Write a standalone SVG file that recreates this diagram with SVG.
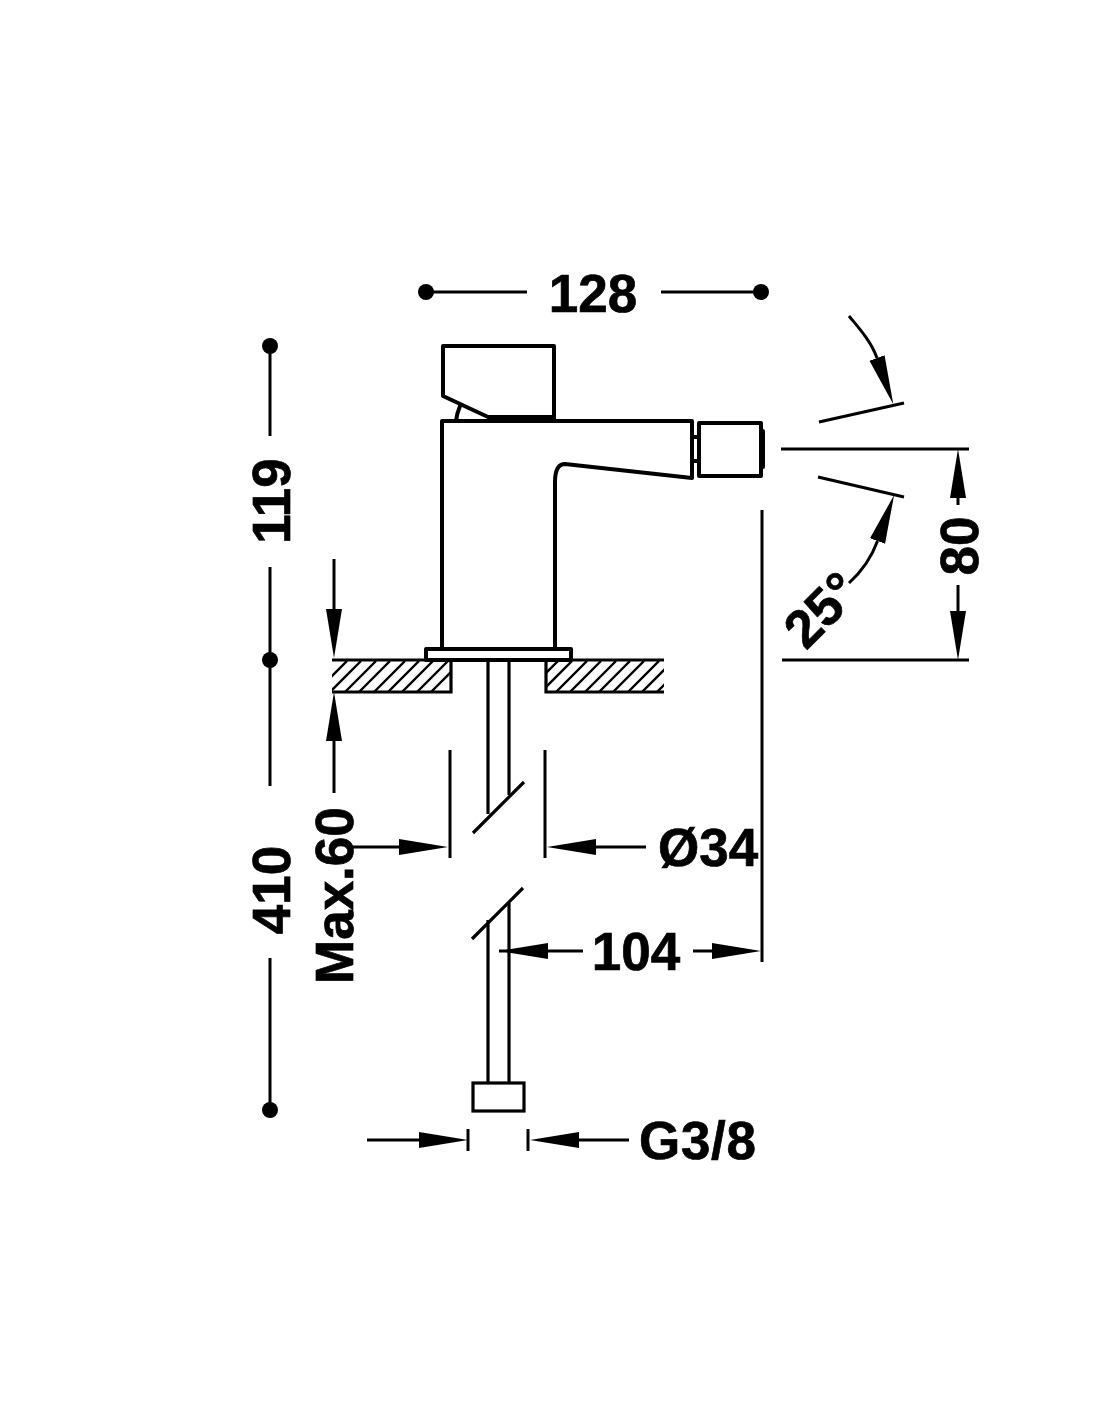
<svg xmlns="http://www.w3.org/2000/svg" width="1100" height="1422" viewBox="0 0 1100 1422">
<style>
.t{font-family:"Liberation Sans",Arial,sans-serif;font-weight:700;font-size:53px;fill:#000;stroke:#000;stroke-width:0.7}
.d{fill:none;stroke:#000;stroke-width:3;stroke-linecap:butt}
.a{marker-end:url(#ah)}
.b{fill:none;stroke:#000;stroke-width:4;stroke-linejoin:round;stroke-linecap:round}
.p{fill:none;stroke:#000;stroke-width:3.2;stroke-linecap:butt;stroke-linejoin:miter}
.h{fill:none;stroke:#000;stroke-width:2.4}
</style>
<defs>
<marker id="ah" markerUnits="userSpaceOnUse" markerWidth="52" markerHeight="18" refX="0" refY="8.5" orient="auto"><path d="M0,0.5 L49,8.5 L0,16.5 Z" fill="#000"/></marker>
<clipPath id="cl"><rect x="332" y="661" width="119" height="31"/></clipPath>
<clipPath id="cr"><rect x="546" y="661" width="118" height="31"/></clipPath>
</defs>
<rect width="1100" height="1422" fill="#fff"/>
<g id="faucet">
<path class="b" d="M443,346 H554 V421 M443,346 V396 L488,417 H554" />
<path class="b" d="M490,419 H554"/>
<path class="b" d="M460,406 Q457,413 456,421"/>
<path class="b" d="M442,649 V421 H692 V478 L565,464 Q555,464 555,482 V649"/>
<rect class="b" x="699" y="423" width="62" height="53"/>
<path class="b" d="M763,431 V467"/>
<path class="b" d="M693,437 H699 M693,461 H699"/>
</g>
<g id="base">
<rect class="b" x="426" y="649" width="145" height="11"/>
<path class="p" d="M488,660 V814 M509,660 V795 M488,920 V1083 M509,903 V1083"/>
<path class="p" d="M473,833 L524,782 M472,939 L523,888"/>
<rect class="p" x="473" y="1083" width="51" height="28"/>
</g>
<g id="countertop">
<path class="p" d="M332,660 H664 M332,692 H451 V660 M664,692 H546 V660"/>
<path class="h" clip-path="url(#cl)" d="M316,692 l31,-31 M330,692 l31,-31 M345,692 l31,-31 M359,692 l31,-31 M374,692 l31,-31 M388,692 l31,-31 M402,692 l31,-31 M417,692 l31,-31 M431,692 l31,-31"/>
<path class="h" clip-path="url(#cr)" d="M527,692 l31,-31 M541,692 l31,-31 M556,692 l31,-31 M570,692 l31,-31 M585,692 l31,-31 M599,692 l31,-31 M613,692 l31,-31 M628,692 l31,-31 M642,692 l31,-31 M657,692 l31,-31"/>
</g>
<g id="connectors">
<path class="d" d="M426,292 H527 M661,292 H761"/>
<path class="d" d="M270,346 V436 M270,567 V786 M270,958 V1110"/>
<path class="d" d="M781,449 H969 M782,660 H969 M819,422 L904,403 M818,477 L904,497"/>
<path class="d a" d="M958,505 V498"/>
<path class="d a" d="M958,585 V611"/>
<path class="d a" d="M849,316 C858,327 871,341 877,358"/>
<path class="d a" d="M849,583 C860,573 871,559 877.5,541"/>
<path class="d a" d="M334,559 V609"/>
<path class="d a" d="M334,793 V741"/>
<path class="d a" d="M352,847 H399"/>
<path class="d a" d="M646,847 H596"/>
<path class="d" d="M450,750 V858 M545,750 V858 M762,510 V962"/>
<path class="d a" d="M583,951 H548"/>
<path class="d" d="M511,951 H499"/>
<path class="d a" d="M693,951 H712"/>
<path class="d a" d="M367,1140 H419"/>
<path class="d a" d="M629,1140 H579"/>
<path class="d" d="M468,1129 V1151 M528,1129 V1151"/>
</g>
<g id="dots" fill="#000">
<circle cx="426" cy="292" r="8"/><circle cx="761" cy="292" r="8"/>
<circle cx="270" cy="346" r="8"/><circle cx="270" cy="660" r="8"/><circle cx="270" cy="1110" r="8"/>
</g>
<g id="labels">
<text class="t" x="593" y="312" text-anchor="middle">128</text>
<text class="t" transform="translate(290,501) rotate(-90)" text-anchor="middle">119</text>
<text class="t" transform="translate(290,890) rotate(-90)" text-anchor="middle">410</text>
<text class="t" transform="translate(353,984) rotate(-90)">Max.60</text>
<text class="t" transform="translate(978,546) rotate(-90)" text-anchor="middle">80</text>
<text class="t" transform="translate(806,651) rotate(-45)">25°</text>
<text class="t" x="658" y="866">Ø34</text>
<text class="t" x="636" y="970" text-anchor="middle">104</text>
<text class="t" x="639" y="1159" textLength="117" lengthAdjust="spacing">G3/8</text>
</g>
</svg>
